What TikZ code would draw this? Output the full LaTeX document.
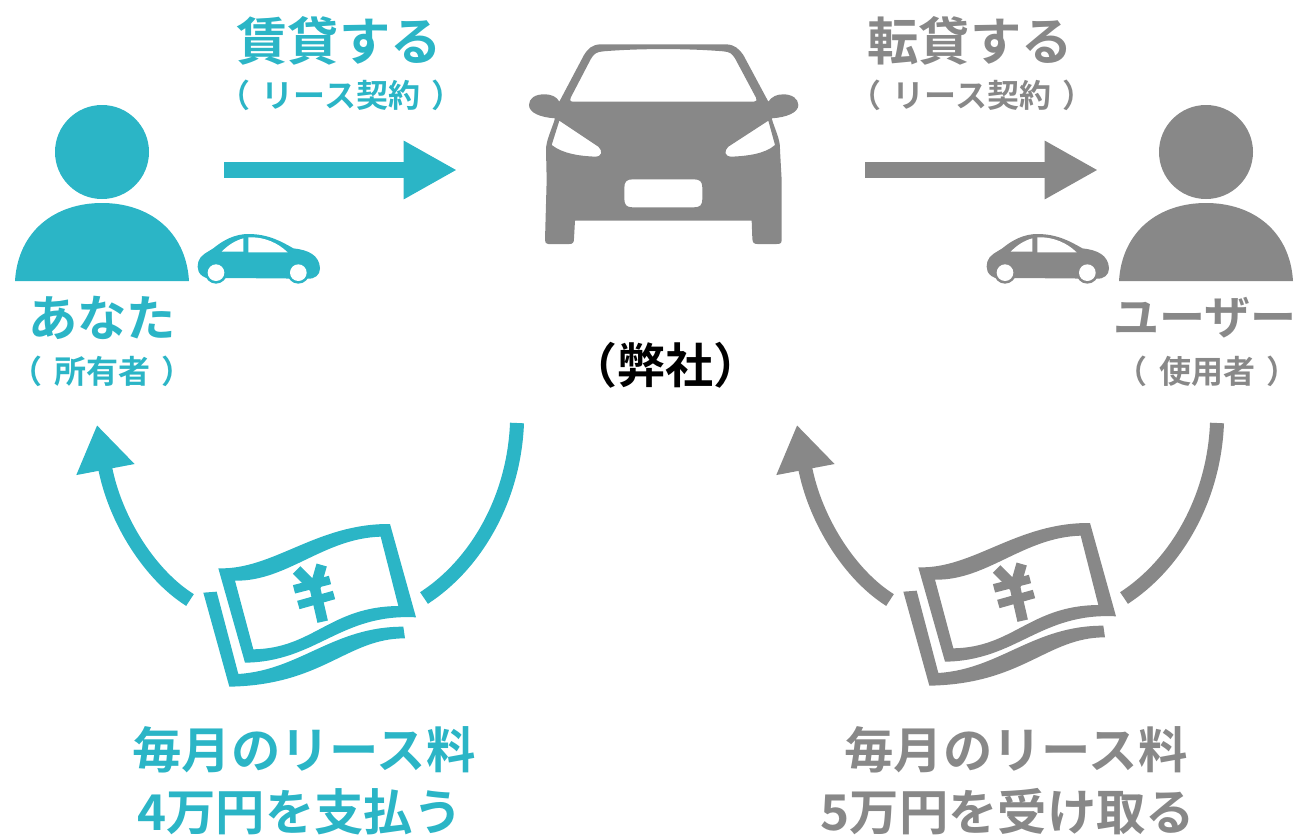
\documentclass[tikz,border=0pt]{standalone}
\usepackage{fontspec}
\setmainfont{Noto Sans CJK JP}[BoldFont={Noto Sans CJK JP Bold}]
\usetikzlibrary{arrows.meta}
\definecolor{leaseteal}{RGB}{43,181,198}
\definecolor{leasegrey}{RGB}{136,136,136}
\tikzset{
  bigtext/.style={font=\fontsize{37}{40}\selectfont\bfseries},
  toptext/.style={font=\fontsize{38.5}{40}\selectfont\bfseries},
  midtext/.style={font=\fontsize{24}{26}\selectfont\bfseries},
  flowline/.style={line width=11.5pt,-{Triangle[length=40pt,width=41pt]}},
  curveline/.style={line width=10.5pt},
  curvearrow/.style={line width=10.5pt,-{Triangle[length=34pt,width=42pt]}},
}
\newcommand{\parentext}[1]{（\kern.35em #1\kern.35em）}
% person: head and shoulders
\newcommand{\drawperson}[3]{
  \fill[#3] (#1,#2-129) circle (47);
  \fill[#3] (#1-87,#2) .. controls (#1-84,#2-50) and (#1-47,#2-78) .. (#1,#2-78)
     .. controls (#1+47,#2-78) and (#1+84,#2-50) .. (#1+87,#2) -- cycle;
}
% small car, side view
\newcommand{\drawsidecar}[3]{
  \begin{scope}[shift={(#1,#2)},scale=1/3]
    \fill[#3] (25,125) .. controls (30,105) and (55,95) .. (70,85)
       .. controls (100,60) and (135,42) .. (175,42)
       .. controls (235,42) and (275,65) .. (310,85)
       .. controls (355,90) and (388,105) .. (390,145)
       .. controls (390,165) and (375,178) .. (350,176) -- (110,174)
       .. controls (70,185) and (35,175) .. (26,155)
       .. controls (22,145) and (22,135) .. (25,125) -- cycle;
    \fill[#3] (78,158) circle (33) (325,158) circle (33);
    \fill[white] (78,158) circle (25) (325,158) circle (25);
    \fill[white] (95,95) .. controls (115,75) and (135,62) .. (160,55) -- (160,95) -- cycle;
    \fill[white] (175,52) .. controls (225,50) and (265,70) .. (293,97) -- (175,97) -- cycle;
  \end{scope}
}
% banknote with yen sign
\newcommand{\drawbill}[3]{
  \begin{scope}[shift={(#1,#2)},scale=1/3]
    \fill[#3,even odd rule] (85,145) .. controls (250,150) and (380,10) .. (600,12)
       -- (678,292) .. controls (450,280) and (380,425) .. (165,428) -- cycle
       (135,182) .. controls (290,185) and (400,55) .. (572,50)
       -- (625,258) .. controls (420,260) and (370,385) .. (190,388) -- cycle;
    \fill[#3] (40,218) -- (80,215) -- (145,462) .. controls (330,450) and (430,320) .. (640,320)
       -- (645,355) .. controls (470,355) and (400,495) .. (118,500) -- cycle;
    \draw[#3,line width=8pt] (320,150) -- (375,205) -- (398,305) (395,135) -- (375,205);
    \draw[#3,line width=6.5pt] (312,208) -- (420,180) (325,255) -- (432,225);
  \end{scope}
}
\begin{document}
\begin{tikzpicture}[x=0.75pt,y=-0.75pt]
       \useasboundingbox (0,0) rectangle (1299,839);
       % people and small cars
       \drawperson{102}{281}{leaseteal}
       \drawperson{1206}{281}{leasegrey}
       \drawsidecar{190}{220}{leaseteal}
       \drawsidecar{979}{220}{leasegrey}
       % big car, front view
       \begin{scope}[shift={(520,30)},scale=1/3]
         \fill[leasegrey,even odd rule] (240,43) -- (620,43)
            .. controls (645,45) and (655,55) .. (670,75) -- (745,215)
            .. controls (755,200) and (770,193) .. (790,193)
            .. controls (815,193) and (835,205) .. (835,225)
            .. controls (835,248) and (800,262) .. (755,265)
            .. controls (765,300) and (782,330) .. (780,360) -- (785,450) -- (785,630)
            .. controls (785,640) and (780,642) .. (770,642) -- (712,642)
            .. controls (702,642) and (697,638) .. (697,625) -- (695,572) -- (165,572) -- (162,625)
            .. controls (162,638) and (158,642) .. (148,642) -- (85,642)
            .. controls (78,642) and (75,638) .. (75,630) -- (80,450) -- (78,360)
            .. controls (78,330) and (95,300) .. (105,265)
            .. controls (60,262) and (27,248) .. (27,225)
            .. controls (27,205) and (45,193) .. (72,193)
            .. controls (95,193) and (110,200) .. (118,215) -- (192,75)
            .. controls (205,55) and (215,45) .. (240,43) -- cycle
            % windscreen
            (160,215) -- (702,215) .. controls (710,215) and (712,210) .. (708,203)
            -- (645,85) .. controls (635,70) and (630,66) .. (610,64)
            .. controls (500,55) and (360,55) .. (250,64)
            .. controls (230,66) and (222,70) .. (212,88) -- (152,203)
            .. controls (148,210) and (150,215) .. (160,215) -- cycle
            % headlights
            (118,272) -- (235,350) .. controls (248,362) and (248,380) .. (225,380)
            .. controls (180,378) and (130,372) .. (95,345) -- cycle
            (745,272) -- (625,350) .. controls (612,362) and (612,380) .. (635,380)
            .. controls (680,378) and (735,372) .. (765,345) -- cycle
            % number plate
            (338,448) -- (522,448) .. controls (540,448) and (547,455) .. (547,473)
            -- (547,507) .. controls (547,525) and (540,532) .. (522,532)
            -- (338,532) .. controls (320,532) and (313,525) .. (313,507)
            -- (313,473) .. controls (313,455) and (320,448) .. (338,448) -- cycle;
       \end{scope}
       % banknotes
       \drawbill{190}{520}{leaseteal}
       \drawbill{890}{519}{leasegrey}
       % labels
       \node[toptext,text=leaseteal] (lendlabel) at (339,41) {賃貸する};
       \node[midtext,text=leaseteal] (lendnote) at (341,95) {\parentext{リース契約}};
       \node[toptext,text=leasegrey] (sublabel) at (970,41) {転貸する};
       \node[midtext,text=leasegrey] (subnote) at (972,95) {\parentext{リース契約}};
       \node[bigtext,text=leaseteal] (ownerlabel) at (102,318) {あなた};
       \node[midtext,text=leaseteal] (ownernote) at (102,371) {\parentext{所有者}};
       \node[font=\fontsize{34.5}{36}\selectfont\bfseries,text=leasegrey] (userlabel) at (1205,318) {ユーザー};
       \node[midtext,text=leasegrey] (usernote) at (1207,371) {\parentext{使用者}};
       \node[font=\fontsize{36}{38}\selectfont\bfseries] (company) at (665,365) {（弊社）};
       \node[bigtext,text=leaseteal] (paylabel) at (304,750) {毎月のリース料};
       \node[bigtext,text=leaseteal] (payamount) at (300,812) {4万円を支払う};
       \node[bigtext,text=leasegrey] (getlabel) at (1016,750) {毎月のリース料};
       \node[bigtext,text=leasegrey] (getamount) at (1008,812) {5万円を受け取る};
       % straight arrows
       \coordinate (lendfrom) at (224,170);
       \coordinate (lendto) at (457,170);
       \coordinate (subfrom) at (865,170);
       \coordinate (subto) at (1098,170);
       \draw[flowline,draw=leaseteal] (lendfrom) -- (lendto);
       \draw[flowline,draw=leasegrey] (subfrom) -- (subto);
       % curved arrows
       \coordinate (payfrom) at (517,423);
       \coordinate (paymid) at (424,598);
       \coordinate (paytail) at (190,600);
       \coordinate (payto) at (97,425);
       \coordinate (getfrom) at (1217,423);
       \coordinate (getmid) at (1124,598);
       \coordinate (gettail) at (890,600);
       \coordinate (getto) at (797,425);
       \draw[curveline,draw=leaseteal] (payfrom) .. controls (514,500) and (475,565) .. (paymid);
       \draw[curvearrow,draw=leaseteal] (paytail) .. controls (150,575) and (115,520) .. (payto);
       \draw[curveline,draw=leasegrey] (getfrom) .. controls (1214,500) and (1175,565) .. (getmid);
       \draw[curvearrow,draw=leasegrey] (gettail) .. controls (850,575) and (815,520) .. (getto);
\end{tikzpicture}
\end{document}
